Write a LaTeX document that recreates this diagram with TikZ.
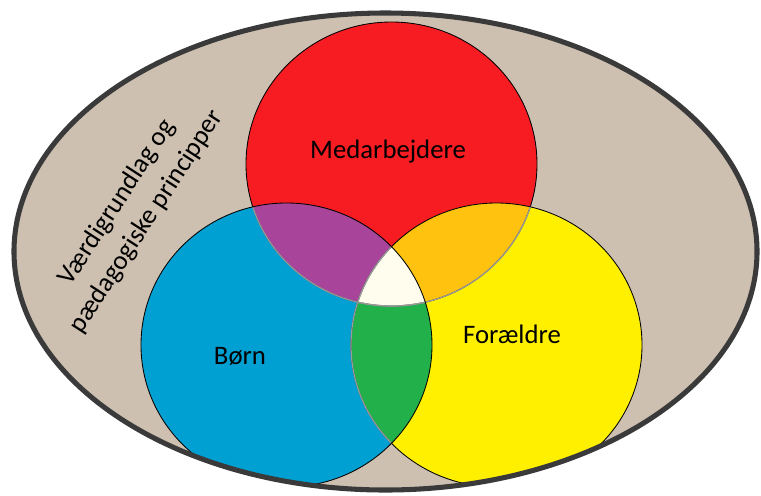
\documentclass[tikz,border=0pt]{standalone}
\usepackage{fontspec}
\setmainfont{Carlito}
\usetikzlibrary{positioning}
\definecolor{rim}{HTML}{3A3A3A}
\definecolor{sand}{HTML}{CDC0B0}
\definecolor{staff}{HTML}{F71C22}
\definecolor{kids}{HTML}{00A0D2}
\definecolor{parents}{HTML}{FFF000}
\definecolor{mixpurple}{HTML}{A8459A}
\definecolor{mixorange}{HTML}{FFC20E}
\definecolor{mixgreen}{HTML}{22B04A}
\definecolor{mixcore}{HTML}{FFFDEE}
\definecolor{seam}{HTML}{9A9A9A}

\begin{document}
\begin{tikzpicture}[
  x=0.025cm, y=-0.025cm,
  disc/.style={x radius=145.5, y radius=142},
  field/.style={x radius=371.5, y radius=238.5},
  word/.style={font=\fontsize{19}{25}\selectfont, text=black, inner sep=0pt},
  ring/.style={draw=black, line width=0.6pt},
  seamline/.style={draw=seam, line width=0.9pt}
]
\useasboundingbox (0,0) rectangle (761,495);

% centres
\coordinate (mid) at (385.5,251.5);
\coordinate (med) at (391.5,164);
\coordinate (born) at (286.5,345);
\coordinate (for) at (496.5,345);

% outer field
\fill[sand] (mid) ellipse [field];

\begin{scope}
  \clip (mid) ellipse [field];
  % circles
  \fill[staff] (med) ellipse [disc];
  \fill[kids] (born) ellipse [disc];
  \fill[parents] (for) ellipse [disc];
  % overlaps
  \begin{scope}
    \clip (med) ellipse [disc];
    \fill[mixpurple] (born) ellipse [disc];
    \fill[mixorange] (for) ellipse [disc];
  \end{scope}
  \begin{scope}
    \clip (born) ellipse [disc];
    \fill[mixgreen] (for) ellipse [disc];
  \end{scope}
  \begin{scope}
    \clip (med) ellipse [disc];
    \clip (born) ellipse [disc];
    \fill[mixcore] (for) ellipse [disc];
  \end{scope}
  % outlines
  \draw[ring] (med) ellipse [disc];
  \draw[ring] (for) ellipse [disc];
  \begin{scope}
    \clip (born) ellipse [disc];
    \draw[seamline] (med) ellipse [disc];
    \draw[seamline] (for) ellipse [disc];
  \end{scope}
  \begin{scope}
    \clip (for) ellipse [disc];
    \draw[seamline] (med) ellipse [disc];
  \end{scope}
  \draw[ring] (born) ellipse [disc];
\end{scope}

\draw[rim, line width=3.6pt] (mid) ellipse [field];

% labels
\node[word] (medlabel) at (388,152) {Medarbejdere};
\node[word] (bornlabel) at (240,356) {Børn};
\node[word] (forlabel) at (512,334) {Forældre};
\node[word, rotate=57, align=center] (values) at (132,212)
  {Værdigrundlag og\\pædagogiske principper};
\end{tikzpicture}
\end{document}
